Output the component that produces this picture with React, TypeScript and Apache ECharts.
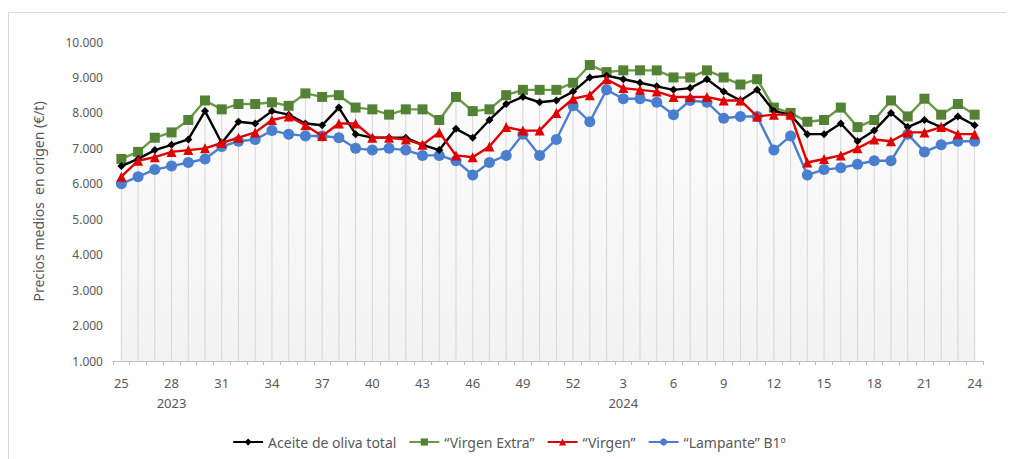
import React, { useEffect, useRef } from "react";
import * as echarts from "echarts";

const weeks2023: number[] = [25,26,27,28,29,30,31,32,33,34,35,36,37,38,39,40,41,42,43,44,45,46,47,48,49,50,51,52];
const weeks2024: number[] = [1,2,3,4,5,6,7,8,9,10,11,12,13,14,15,16,17,18,19,20,21,22,23,24];
const categories: string[] = [...weeks2023, ...weeks2024].map(String);
const yearLabels: Record<number, string> = { 3: "2023", 30: "2024" };

const aceiteTotal: number[] = [
  6500,6700,6950,7100,7250,8050,7150,7750,7700,8050,7950,7700,7650,8150,7400,7300,7300,7300,7100,6950,7550,7300,7800,8250,8450,8300,8350,8600,
  9000,9050,8950,8850,8750,8650,8700,8950,8600,8350,8650,8050,7950,7400,7400,7700,7200,7500,8000,7600,7800,7600,7900,7650
];
const virgenExtra: number[] = [
  6700,6900,7300,7450,7800,8350,8100,8250,8250,8300,8200,8550,8450,8500,8150,8100,7950,8100,8100,7800,8450,8050,8100,8500,8650,8650,8650,8850,
  9350,9150,9200,9200,9200,9000,9000,9200,9000,8800,8950,8150,8000,7750,7800,8150,7600,7800,8350,7900,8400,7950,8250,7950
];
const virgen: number[] = [
  6200,6650,6750,6900,6950,7000,7150,7300,7450,7800,7900,7650,7350,7700,7700,7300,7300,7250,7100,7450,6800,6750,7050,7600,7500,7500,8000,8400,
  8500,8950,8700,8650,8600,8450,8450,8450,8350,8350,7900,7950,7950,6600,6700,6800,7000,7250,7200,7450,7450,7600,7400,7400
];
const lampante: number[] = [
  6000,6200,6400,6500,6600,6700,7050,7200,7250,7500,7400,7350,7350,7300,7000,6950,7000,6950,6800,6800,6650,6250,6600,6800,7400,6800,7250,8200,
  7750,8650,8400,8400,8300,7950,8350,8300,7850,7900,7900,6950,7350,6250,6400,6450,6550,6650,6650,7400,6900,7100,7200,7200
];
const yTicks: number[] = [1000, 2000, 3000, 4000, 5000, 6000, 7000, 8000, 9000, 10000];

const seriesNames: string[] = [
  "Aceite de oliva total",
  "\u201cVirgen Extra\u201d",
  "\u201cVirgen\u201d",
  "\u201cLampante\u201d B1\u00ba",
];

const topValues: number[] = categories.map((_, i) =>
  Math.max(aceiteTotal[i], virgenExtra[i], virgen[i], lampante[i])
);

const fmt = (v: number) => String(v).replace(/\B(?=(\d{3})+(?!\d))/g, ".");

export default function App() {
  const ref = useRef<HTMLDivElement>(null);
  useEffect(() => {
    if (!ref.current) return;
    const chart = echarts.init(ref.current, null, { renderer: "svg" });
    const font = "'Noto Sans', 'Open Sans', sans-serif";
    chart.setOption({
      animation: false,
      textStyle: { fontFamily: font },
      grid: { left: 104, right: 26, top: 29, bottom: 102, containLabel: false },
      legend: {
        data: seriesNames,
        bottom: 9,
        left: "center",
        itemWidth: 30,
        itemHeight: 9,
        itemGap: 12,
        textStyle: { color: "#595959", fontSize: 14, fontFamily: font },
      },
      xAxis: {
        type: "category",
        data: categories,
        boundaryGap: true,
        axisLine: { lineStyle: { color: "#bfbfbf" } },
        axisTick: { show: true, interval: 0, length: 4, lineStyle: { color: "#bfbfbf" } },
        axisLabel: {
          interval: 2,
          color: "#595959",
          fontSize: 13,
          margin: 12,
          lineHeight: 20,
          formatter: (value: string, index: number) =>
            yearLabels[index] ? value + "\n" + yearLabels[index] : value,
        },
        splitLine: { show: false },
      },
      yAxis: {
        type: "value",
        min: 1000,
        max: 10000,
        interval: 1000,
        name: "Precios medios  en origen (\u20ac/t)",
        nameLocation: "middle",
        nameGap: 68,
        nameTextStyle: { color: "#595959", fontSize: 14, fontFamily: font },
        axisLine: { show: false },
        axisTick: { show: false },
        splitLine: { show: false },
        axisLabel: {
          color: "#595959",
          fontSize: 12,
          margin: 10,
          formatter: (v: number) => (yTicks.includes(v) ? fmt(v) : ""),
        },
      },
      series: [
        {
          type: "line",
          data: topValues,
          symbol: "none",
          silent: true,
          z: 0,
          lineStyle: { width: 0, opacity: 0 },
          areaStyle: {
            origin: "start",
            color: new echarts.graphic.LinearGradient(0, 0, 0, 1, [
              { offset: 0, color: "#fbfbfb" },
              { offset: 1, color: "#eeeeee" },
            ]),
          },
          tooltip: { show: false },
        },
        {
          type: "bar",
          data: topValues,
          barWidth: 1,
          silent: true,
          z: 1,
          itemStyle: { color: "#d6d6d6" },
          barGap: "-100%",
        },
        {
          name: seriesNames[0],
          type: "line",
          data: aceiteTotal,
          z: 5,
          symbol: "diamond",
          symbolSize: 8,
          itemStyle: { color: "#000000" },
          lineStyle: { color: "#000000", width: 2.4 },
        },
        {
          name: seriesNames[1],
          type: "line",
          data: virgenExtra,
          z: 4,
          symbol: "rect",
          symbolSize: 10,
          itemStyle: { color: "#548235" },
          lineStyle: { color: "#6a9a45", width: 2.4 },
        },
        {
          name: seriesNames[2],
          type: "line",
          data: virgen,
          z: 6,
          symbol: "triangle",
          symbolSize: 10,
          itemStyle: { color: "#e00000" },
          lineStyle: { color: "#e00000", width: 2.4 },
        },
        {
          name: seriesNames[3],
          type: "line",
          data: lampante,
          z: 3,
          symbol: "circle",
          symbolSize: 11,
          itemStyle: { color: "#4a7fd0" },
          lineStyle: { color: "#4a7fd0", width: 2.4 },
        },
      ],
    });
    return () => chart.dispose();
  }, []);
  return (
    <div
      style={{
        marginTop: 4,
        width: 1000,
        height: 460,
        borderTop: "1px solid #d9d9d9",
        borderLeft: "1px solid #d9d9d9",
        borderRight: "1px solid #d9d9d9",
        boxSizing: "content-box",
      }}
    >
      <div ref={ref} style={{ width: 1000, height: 450 }} />
    </div>
  );
}
